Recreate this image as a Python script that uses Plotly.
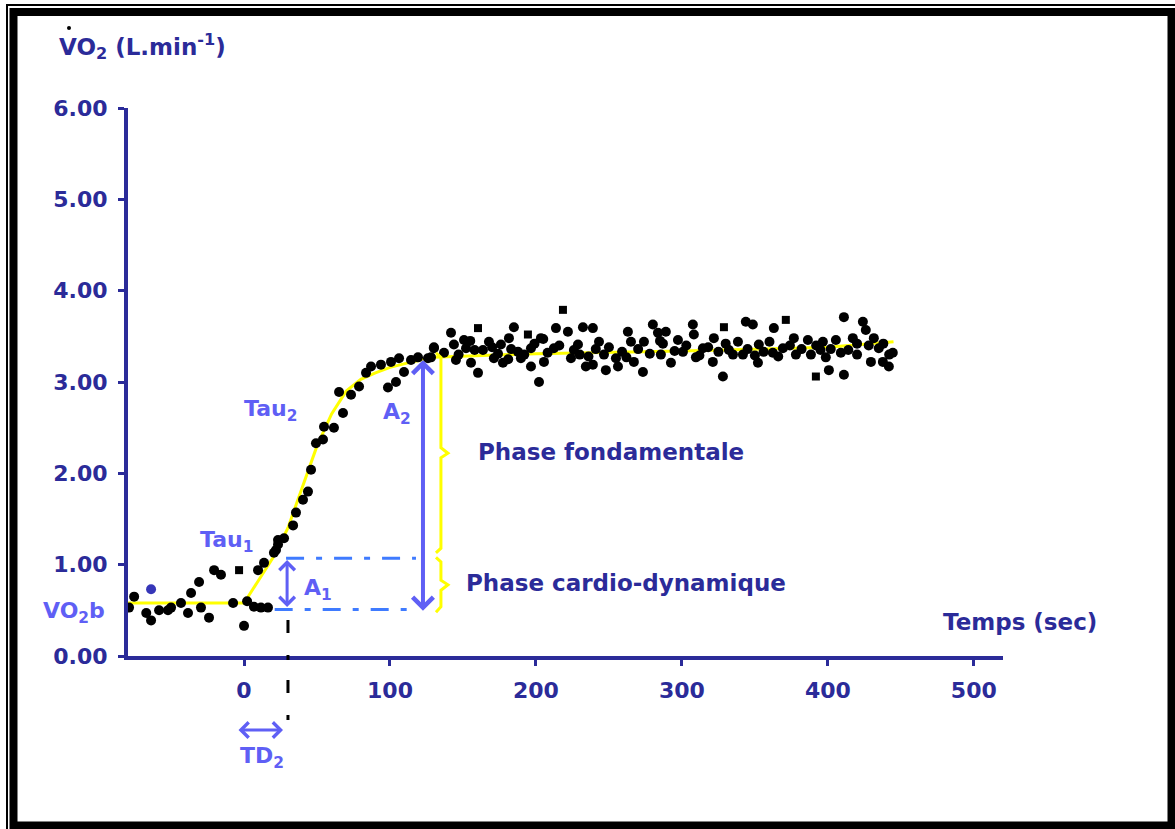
import plotly.graph_objects as go

# ---------------- data ----------------
base_t = [-78.8, -75.3, -67.0, -63.7, -58.2, -52.1, -50.0, -43.2, -38.4, -36.3, -30.8, -29.5,
          -24.0, -20.5, -15.8, -7.5, 0.0, 2.1, 6.8, 11.6, 16.4, 9.6, 13.7, 20.5, 23.3]
base_v = [0.53, 0.65, 0.47, 0.39, 0.50, 0.50, 0.53, 0.58, 0.47, 0.69, 0.81, 0.53,
          0.42, 0.94, 0.89, 0.58, 0.33, 0.60, 0.54, 0.53, 0.53, 0.94, 1.02, 1.13, 1.22]

ramp_t = [21.9, 23.3, 27.4, 33.6, 35.6, 40.4, 43.8, 45.9, 49.3, 54.1, 54.8, 61.6, 67.8,
          65.1, 73.3, 78.8, 83.6, 87.0, 93.8, 98.6, 104.1, 100.7, 106.2, 109.6, 114.4,
          119.2, 126.0, 130.1]
ramp_v = [1.16, 1.27, 1.29, 1.43, 1.57, 1.71, 1.80, 2.04, 2.33, 2.37, 2.51, 2.50, 2.66,
          2.89, 2.86, 2.95, 3.10, 3.17, 3.19, 2.94, 3.00, 3.22, 3.26, 3.11, 3.24,
          3.27, 3.26, 3.37]

steady_t = [130.1, 128.1, 141.8, 143.8, 150.7, 152.1, 145.2, 155.5, 160.3, 163.7, 167.8,
            171.2, 176.0, 177.4, 181.5, 184.9, 187.7, 189.7, 196.6, 196.6, 202.1, 203.4,
            205.5, 212.3, 213.7, 221.9, 224.0, 228.8, 232.2, 234.2, 239.0, 239.0, 243.2,
            246.6, 247.9, 254.8, 256.2, 263.0, 265.1, 267.1, 273.3, 274.0, 280.1, 283.6,
            285.6, 289.0, 292.5, 297.3, 300.7, 307.5, 308.2, 309.6, 314.4, 321.2, 321.9,
            328.1, 332.2, 338.4, 341.8, 343.8, 348.6, 352.7, 352.1, 363.0, 362.3, 369.2,
            376.7, 378.1, 386.3, 388.4, 396.6, 398.6, 400.7, 405.5, 408.9, 411.0, 411.0,
            417.1, 424.0, 426.0, 429.5, 431.5, 434.9, 437.7, 441.8, 444.5,
            137, 147, 158, 170, 174, 183, 192, 199, 208, 216, 226, 236, 241, 250, 259, 262,
            270, 278, 287, 295, 303, 312, 318, 325, 335, 345, 356, 360, 366, 374, 382, 392,
            402, 414, 420, 428, 438, 442, 205, 285, 330, 350, 395, 230, 181, 155, 420]
steady_v = [3.38, 3.27, 3.54, 3.41, 3.46, 3.37, 3.24, 3.21, 3.10, 3.35, 3.44,
            3.26, 3.41, 3.21, 3.48, 3.60, 3.33, 3.26, 3.37, 3.17, 3.00, 3.48,
            3.22, 3.37, 3.59, 3.55, 3.26, 3.41, 3.60, 3.17, 3.59, 3.19, 3.44,
            3.30, 3.13, 3.26, 3.17, 3.55, 3.44, 3.22, 3.11, 3.44, 3.63, 3.54,
            3.30, 3.55, 3.21, 3.46, 3.33, 3.63, 3.52, 3.27, 3.37, 3.22, 3.48,
            3.06, 3.35, 3.44, 3.30, 3.66, 3.63, 3.41, 3.21, 3.59, 3.32, 3.37,
            3.48, 3.30, 3.46, 3.30, 3.44, 3.27, 3.13, 3.46, 3.32, 3.08, 3.71,
            3.48, 3.66, 3.57, 3.22, 3.48, 3.37, 3.22, 3.17, 3.32,
            3.32, 3.30, 3.35, 3.38, 3.31, 3.36, 3.30, 3.42, 3.32, 3.40, 3.35, 3.28, 3.36, 3.38, 3.33, 3.27,
            3.36, 3.31, 3.42, 3.34, 3.40, 3.29, 3.38, 3.33, 3.30, 3.36, 3.33, 3.44, 3.28, 3.40, 3.36, 3.40,
            3.36, 3.35, 3.42, 3.40, 3.42, 3.30, 3.47, 3.45, 3.42, 3.29, 3.35, 3.30, 3.25, 3.45, 3.30]

square_t = [-3.4, 160.3, 194.5, 218.5, 328.8, 371.2, 391.8]
square_v = [0.94, 3.59, 3.52, 3.79, 3.60, 3.68, 3.06]

marked_t = [-63.7]
marked_v = [0.73]

model_t = [-80, 0, 20, 30, 40, 50, 60, 70, 80, 90, 100, 115, 130, 200, 300, 400, 445]
model_v = [0.58, 0.58, 1.08, 1.40, 1.85, 2.30, 2.65, 2.90, 3.03, 3.10, 3.16, 3.22, 3.27,
           3.31, 3.34, 3.38, 3.44]

x_ticks = [0, 100, 200, 300, 400, 500]
y_ticks = [0, 1, 2, 3, 4, 5, 6]

baseline_level = 0.51     # VO2b (lower dash-dot)
a1_level = 1.07           # end of cardio-dynamic phase
a2_top = 3.24
td2 = 30.1                # time delay
a2_time = 122.6

# ---------------- layout helpers ----------------
W, H = 1175, 829
PLOT_L, PLOT_R, PLOT_T, PLOT_B = 128, 1003, 108, 656   # plot area in window pixels
L, T, R, B = PLOT_L, PLOT_T, W - PLOT_R, H - PLOT_B
PW = PLOT_R - PLOT_L
PH = PLOT_B - PLOT_T


def px(xp):
    return (xp - PLOT_L) / PW


def py(yp):
    return (PLOT_B - yp) / PH


DARK = "#2B2B99"
LIGHT = "#5F5FF5"
DASHBLUE = "#3F7BFF"
YELLOW = "#FFFF00"
FONT = "DejaVu Sans"

fig = go.Figure()

# model curve
fig.add_trace(go.Scatter(x=model_t, y=model_v, mode="lines",
                         line=dict(color=YELLOW, width=3), hoverinfo="skip"))

# dash-dot amplitude lines
fig.add_trace(go.Scatter(x=[td2 - 1.3, 117.8], y=[a1_level, a1_level], mode="lines",
                         line=dict(color=DASHBLUE, width=3, dash="18px,12px,6px,12px")))
fig.add_trace(go.Scatter(x=[21, 117.8], y=[baseline_level, baseline_level], mode="lines",
                         line=dict(color=DASHBLUE, width=3, dash="18px,12px,6px,12px")))

# points
pts_t = base_t + ramp_t + steady_t
pts_v = base_v + ramp_v + steady_v
fig.add_trace(go.Scatter(x=pts_t, y=pts_v, mode="markers",
                         marker=dict(symbol="circle", size=10, color="black", line=dict(width=0))))
fig.add_trace(go.Scatter(x=square_t, y=square_v, mode="markers",
                         marker=dict(symbol="square", size=8, color="black", line=dict(width=0))))
fig.add_trace(go.Scatter(x=marked_t, y=marked_v, mode="markers",
                         marker=dict(symbol="circle", size=10, color="#3636B8",
                                     line=dict(width=0))))

# braces (yellow)
bx_l, bx_m, bx_r = 131.5, 134.9, 139.7
upper = [(bx_l, 3.32), (bx_m, 3.27), (bx_m, 2.28), (bx_r, 2.22), (bx_m, 2.17), (bx_m, 1.18), (bx_l, 1.13)]
lower = [(bx_l, 1.08), (bx_m, 1.03), (bx_m, 0.83), (bx_r, 0.78), (bx_m, 0.72), (bx_m, 0.54), (bx_l, 0.48)]
for br in (upper, lower):
    fig.add_trace(go.Scatter(x=[p[0] for p in br], y=[p[1] for p in br], mode="lines",
                             line=dict(color=YELLOW, width=3), hoverinfo="skip"))

shapes = []
# vertical dash-dot at TD2
shapes.append(dict(type="line", xref="x", yref="paper", x0=td2, x1=td2, y0=py(620), y1=py(722),
                   line=dict(color="black", width=3, dash="13px,22px,5px,20px")))
# frame: thin outer line + thick inner border
shapes.append(dict(type="rect", xref="paper", yref="paper", x0=px(7), x1=px(1200),
                   y0=py(850), y1=py(5), line=dict(color="black", width=2)))
shapes.append(dict(type="rect", xref="paper", yref="paper", x0=px(13.5), x1=px(1171.5),
                   y0=py(825.5), y1=py(12), line=dict(color="black", width=8)))
# dot above V
shapes.append(dict(type="circle", xref="paper", yref="paper", x0=px(67), x1=px(71),
                   y0=py(30), y1=py(26), fillcolor="black", line=dict(width=0)))

ann = []


def label(text, xp, yp, color, size=20, xanchor="center"):
    ann.append(dict(text=text, x=px(xp), y=py(yp), xref="paper", yref="paper",
                    xanchor=xanchor, yanchor="middle", showarrow=False,
                    font=dict(family=FONT, size=size, color=color, weight="bold")))


label("VO<sub>2</sub> (L.min<sup>-1</sup>)", 57, 46, DARK, 23, "left")
label("Tau<sub>2</sub>", 270, 410, LIGHT, 22)
label("A<sub>2</sub>", 397, 414, LIGHT, 22)
label("Tau<sub>1</sub>", 226, 541, LIGHT, 22)
label("A<sub>1</sub>", 318, 589, LIGHT, 22)
label("VO<sub>2</sub>b", 74, 612, LIGHT, 22)
label("TD<sub>2</sub>", 262, 757, LIGHT, 22)
label("Phase fondamentale", 476, 452, DARK, 23, "left")
label("Phase cardio-dynamique", 464, 583, DARK, 23, "left")
label("Temps (sec)", 941, 622, DARK, 23, "left")

# arrows
ann.append(dict(x=a2_time, y=a2_top, ax=a2_time, ay=baseline_level - 0.03, xref="x", yref="y",
                axref="x", ayref="y", text="", showarrow=True, arrowhead=4, arrowside="end+start",
                arrowsize=1, arrowwidth=4, arrowcolor=LIGHT, standoff=0, startstandoff=0))
ann.append(dict(x=td2 - 0.6, y=a1_level - 0.02, ax=td2 - 0.6, ay=baseline_level + 0.01, xref="x", yref="y",
                axref="x", ayref="y", text="", showarrow=True, arrowhead=4, arrowside="end+start",
                arrowsize=1, arrowwidth=3, arrowcolor=LIGHT, standoff=0, startstandoff=0))
ann.append(dict(x=px(283), y=py(730), ax=-46, ay=0, xref="paper", yref="paper",
                text="", showarrow=True, arrowhead=4, arrowside="end+start",
                arrowsize=1, arrowwidth=3, arrowcolor=LIGHT, standoff=0, startstandoff=0))

fig.update_layout(
    width=W, height=H,
    margin=dict(l=L, r=R, t=T, b=B, pad=0),
    paper_bgcolor="white", plot_bgcolor="white",
    showlegend=False,
    shapes=shapes, annotations=ann,
    xaxis=dict(range=[-79.5, 520], tickvals=x_ticks, ticktext=[str(v) for v in x_ticks],
               showgrid=False, zeroline=False, showline=True, linecolor=DARK, linewidth=4,
               ticks="outside", ticklen=6, tickwidth=3, tickcolor=DARK, ticklabelstandoff=6,
               tickfont=dict(family=FONT, size=22, color=DARK, weight="bold")),
    yaxis=dict(range=[0, 6], tickvals=y_ticks, ticktext=[f"{v:.2f}" for v in y_ticks],
               showgrid=False, zeroline=False, showline=True, linecolor=DARK, linewidth=4,
               ticks="outside", ticklen=6, tickwidth=3, tickcolor=DARK, ticklabelstandoff=6,
               tickfont=dict(family=FONT, size=22, color=DARK, weight="bold")),
)

# remove the default 8px page margin so the figure fills the window exactly
fig.write_html("out.html", config={"displayModeBar": False},
               post_script="document.body.style.margin='0';document.body.style.overflow='hidden';")
